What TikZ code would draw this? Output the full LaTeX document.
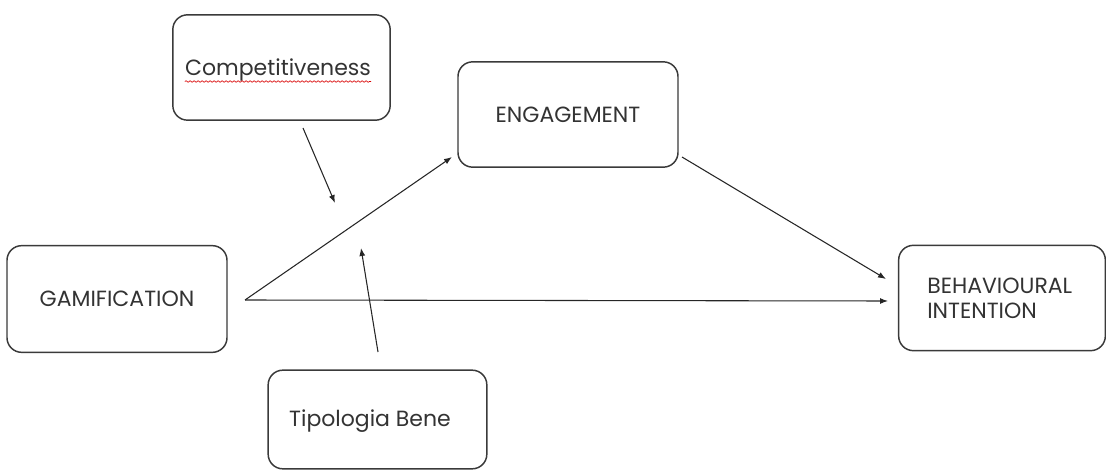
\documentclass[tikz,border=0pt]{standalone}
\usepackage{fontspec}
\setmainfont{Poppins}
\usetikzlibrary{arrows.meta,decorations.pathmorphing}
\definecolor{txt}{HTML}{333333}
\definecolor{edge}{HTML}{3A3A3A}
\begin{document}
\begin{tikzpicture}[x=0.75pt,y=-0.75pt,
  lbl/.style={text=txt,font=\fontsize{16.5}{19}\selectfont,inner sep=0pt},
  box/.style={lbl,draw=edge,line width=1.1pt,rounded corners=11pt,fill=white},
  conn/.style={draw=black!85,line width=0.8pt,-{Latex[length=6pt,width=4.5pt]}},
  spell/.style={draw=red!85!black,line width=0.5pt,decorate,
    decoration={snake,amplitude=0.6pt,segment length=3pt}}]
\useasboundingbox (0,0) rectangle (1106,470);
\node[box,minimum width=163pt,minimum height=79pt] (comp) at (281.5,67.5) {};
\node[lbl] (compt) at (278,70) {Competitiveness};
\draw[spell] (compt.base west) ++(0,6) coordinate (sw0) -- (compt.base east |- sw0) coordinate (sw1);
\node[box,minimum width=165pt,minimum height=79pt] (eng) at (568,114.5) {ENGAGEMENT};
\node[box,minimum width=165pt,minimum height=80pt] (gam) at (117,299) {GAMIFICATION};
\node[box,minimum width=155pt,minimum height=79pt] (beh) at (1002,298) {};
\node[lbl,align=left,anchor=west] (beht) at (927,298) {BEHAVIOURAL\\INTENTION};
\node[box,minimum width=164pt,minimum height=74pt] (tip) at (377.5,419.5) {};
\node[lbl] (tipt) at (370,421) {Tipologia Bene};
\coordinate (gs) at (245,300);
\coordinate (ge) at (452,157);
\coordinate (be) at (888,301);
\coordinate (es) at (682,157);
\coordinate (ee) at (886,279);
\coordinate (cs) at (303,128);
\coordinate (ce) at (335,203);
\coordinate (ts) at (378,352);
\coordinate (te) at (361,248);
\draw[conn] (gs) -- (ge);
\draw[conn] (gs) -- (be);
\draw[conn] (es) -- (ee);
\draw[conn] (cs) -- (ce);
\draw[conn] (ts) -- (te);
\end{tikzpicture}
\end{document}
